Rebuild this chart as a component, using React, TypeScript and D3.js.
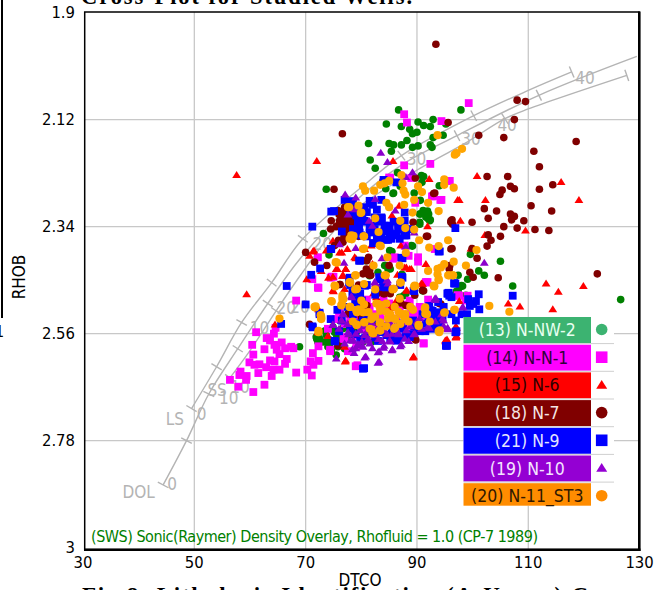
import React from "react";
import * as d3 from "d3";

type P = [number, number];

const xTicks = [30, 50, 70, 90, 110, 130];
const yTicks = [1.9, 2.12, 2.34, 2.56, 2.78, 3];
const legendLabels = ["(13) N-NW-2", "(14) N-N-1", "(15) N-6", "(18) N-7", "(21) N-9", "(19) N-10", "(20) N-11_ST3"];
const legendFills = ["#3cb371", "#ff00ff", "#ff0000", "#800000", "#0000ff", "#9400d3", "#ff8c00"];
const legendInk = ["#e8fff0", "#30003a", "#300000", "#f4e4e4", "#e4e4ff", "#f4e4ff", "#301800"];
const legendShapes = ["c", "s", "t", "c", "s", "t", "c"];

const curveLS: P[] = [[49.5,2.714],[54,2.628],[58.5,2.537],[63.9,2.455],[69.5,2.365],[81.5,2.245],[87.2,2.194],[100.2,2.112],[110,2.06],[117.8,2.022]];
const curveDOL: P[] = [[44.4,2.871],[48.6,2.78],[52.6,2.684],[57.8,2.591],[63.2,2.498],[69,2.406],[78,2.297],[87,2.215],[97.2,2.153],[111.9,2.07],[129.5,1.99]];
const curveSS: P[] = [[56.4,2.651],[60,2.595],[64.7,2.513],[69,2.441],[74.4,2.358],[79.8,2.297],[92.1,2.21],[98.6,2.169],[105.8,2.118],[110,2.098],[127.7,2.029]];
const ticksLS: P[] = [[49.5,2.714],[54,2.628],[58.5,2.537],[63.9,2.455],[69.5,2.365],[87.2,2.194],[100.2,2.112],[117.8,2.022]];
const ticksDOL: P[] = [[44.4,2.871],[48.6,2.78],[52.6,2.684],[57.8,2.591],[63.2,2.498],[97.2,2.153],[111.9,2.07]];
const ticksSS: P[] = [[56.4,2.651],[64.7,2.513],[105.8,2.118],[127.7,2.029]];
const overlayLabels: [string, number, number][] = [
  ["LS",46.5,2.736],["0",51.3,2.725],["SS",54.1,2.676],["10",56.2,2.692],["10",61.7,2.549],["10",58.2,2.669],
  ["20",66.5,2.507],["20",69,2.506],["20",73,2.376],["30",89.9,2.2],["30",99.7,2.16],["40",120.2,2.035],["40",106.2,2.132],
  ["DOL",40,2.885],["0",46,2.87],
];

const nw2: P[] = [[86.7,2.1],[97.9,2.1],[84.5,2.129],[87.2,2.134],[90.2,2.125],[91.2,2.132],[92.4,2.134],[92.9,2.12],[95.2,2.129],[88.7,2.14],[89.2,2.149],[90,2.146],[92.9,2.157],[94.7,2.152],[81.3,2.169],[85,2.169],[85.8,2.172],[87.2,2.172],[88.2,2.163],[89.2,2.177],[90.2,2.174],[92.4,2.172],[92.7,2.177],[85.4,2.185],[81.6,2.203],[82.5,2.22],[86.5,2.229],[91.2,2.237],[90.9,2.249],[85.8,2.271],[84.4,2.262],[87,2.257],[89.5,2.271],[90.6,2.286],[91.9,2.308],[90.6,2.314],[91.6,2.32],[92.4,2.326],[90.5,2.331],[92.1,2.314],[89.2,2.38],[85.5,2.391],[99.6,2.397],[105,2.411],[101.1,2.431],[102.1,2.44],[97.4,2.44],[99.1,2.448],[98.2,2.462],[107.2,2.462],[97.4,2.472],[80.8,2.41],[84.4,2.42],[83,2.434],[81.5,2.441],[85.2,2.427],[87.3,2.438],[91,2.472],[87.6,2.482],[73.7,2.263],[73.2,2.354],[74.2,2.398],[84.2,2.42],[84.8,2.427],[85.1,2.389],[89,2.379],[90.5,2.314],[92,2.324],[91.1,2.307],[92.3,2.328],[90.5,2.335],[90.8,2.235],[85.7,2.272],[94,2.256],[75.2,2.557],[76.7,2.55],[76.1,2.563],[73.7,2.563],[72.5,2.57],[73.1,2.577],[74.3,2.581],[75.5,2.57],[76.4,2.577],[74.6,2.594],[75.5,2.604],[77,2.591],[77.9,2.567],[79.1,2.557],[77.3,2.539],[76.1,2.533],[80.3,2.577],[81.8,2.577],[74,2.587],[74.9,2.546],[68.9,2.587],[71.9,2.567],[72.2,2.577],[75.8,2.587],[76.7,2.57],[86.9,2.485],[88,2.478],[97.9,2.463],[98.8,2.481],[126.6,2.49],[73.5,2.554],[75.3,2.557],[76.8,2.547],[72,2.571],[74.1,2.571],[98,2.461],[97.1,2.473],[75.9,2.571],[77.4,2.54]];

const n1: P[] = [[87.7,2.109],[88.2,2.126],[99.3,2.086],[94.4,2.123],[87.7,2.214],[92.4,2.211],[85.2,2.24],[89,2.24],[95.9,2.246],[92.9,2.277],[94.4,2.285],[89.7,2.291],[86,2.403],[88.5,2.4],[90.2,2.403],[90.2,2.412],[91.9,2.454],[93.2,2.386],[97.6,2.482],[99.1,2.482],[75,2.443],[72.2,2.403],[71.2,2.448],[72.2,2.465],[74.5,2.445],[85,2.239],[95.7,2.246],[94.2,2.285],[92.7,2.278],[85.7,2.406],[87.8,2.379],[68.3,2.492],[61.1,2.557],[64.6,2.548],[64.3,2.56],[63,2.569],[63.6,2.574],[60.4,2.583],[62.6,2.592],[64.4,2.583],[65.7,2.578],[64.8,2.593],[66.3,2.59],[67.4,2.587],[67.8,2.59],[65.3,2.602],[60.6,2.603],[63.6,2.615],[64.4,2.617],[66.6,2.612],[66.3,2.622],[59.9,2.619],[60.8,2.624],[61.7,2.623],[62.9,2.629],[61.5,2.641],[64.2,2.634],[65.3,2.634],[63.9,2.647],[58.3,2.638],[58.1,2.645],[59.4,2.647],[59.3,2.655],[56.4,2.655],[57.9,2.669],[62.6,2.665],[60.6,2.68],[68.3,2.64],[70.3,2.634],[71.1,2.646],[70.9,2.617],[72.3,2.616],[71.3,2.6],[72.3,2.586],[71.4,2.624],[74.4,2.593],[74.4,2.596],[79,2.627],[77.6,2.596],[91.2,2.58],[79.3,2.625],[85,2.498],[83.9,2.505],[86.9,2.512],[88.7,2.492],[81.5,2.505],[79.7,2.512],[86.3,2.529],[83.3,2.526],[88.7,2.546],[79.1,2.587],[91.6,2.454],[97.3,2.481],[98.8,2.492],[77,2.567],[85.2,2.505],[86.7,2.51],[88.8,2.52],[90,2.52],[91.2,2.523],[84.3,2.513],[82.5,2.52],[81,2.554],[76.8,2.571],[78.9,2.564],[97.4,2.482],[91.8,2.455],[74.7,2.443],[72.3,2.466],[91.2,2.58],[75.5,2.53],[77,2.54],[78,2.525],[80,2.55],[82,2.54],[83.5,2.53],[85,2.54],[87,2.545],[89.5,2.535],[90.5,2.505],[92,2.49],[84,2.49],[81,2.49],[79,2.53],[87.5,2.5],[89,2.51],[74,2.55],[76,2.515]];

const n6: P[] = [[57.6,2.234],[72,2.205],[59.4,2.479],[85.7,2.205],[92.2,2.242],[100.8,2.236],[115.9,2.248],[97.6,2.285],[102.3,2.285],[119.1,2.285],[91.9,2.339],[97.8,2.328],[86.8,2.297],[85.5,2.317],[102.2,2.357],[109.5,2.348],[99.7,2.385],[113.2,2.457],[115.4,2.474],[119.9,2.462],[91,2.458],[91.6,2.417],[88.7,2.427],[87.8,2.424],[79,2.405],[76.5,2.393],[77.5,2.386],[82,2.417],[76.8,2.441],[75.7,2.427],[77.2,2.427],[87.1,2.379],[106.4,2.498],[108.5,2.504],[114.4,2.51],[89.4,2.607],[77.2,2.615],[95.4,2.572],[97.1,2.565],[97.1,2.548],[97.6,2.493],[71.5,2.389],[70.7,2.4],[74.9,2.369],[73.7,2.389],[76.1,2.393],[78.8,2.403],[80.6,2.386],[75.5,2.427],[77.2,2.427],[76.6,2.441],[74.9,2.443],[81.8,2.379],[88.1,2.424],[89,2.427],[97.3,2.285],[70.2,2.448],[72.8,2.431],[74.1,2.445],[71.3,2.391],[74,2.386],[74.9,2.471],[72.2,2.557],[77,2.587],[77.1,2.617],[89.3,2.609],[82.7,2.485],[86.3,2.492],[88.1,2.471],[90.8,2.457],[95.1,2.574],[97,2.567],[97,2.545],[77,2.468],[78.8,2.478],[83.9,2.454],[86.9,2.456],[64.5,2.541],[74,2.565],[72.3,2.51],[75,2.473],[76.7,2.441],[82.2,2.477],[85.2,2.507],[88.2,2.472],[95.2,2.576],[97,2.568],[86.5,2.439],[78.6,2.544],[82.5,2.561]];

const n7: P[] = [[93.4,1.965],[108,2.08],[109.5,2.083],[107.5,2.12],[95.6,2.126],[76.6,2.149],[101.1,2.152],[105.6,2.157],[118.6,2.165],[111,2.185],[112,2.217],[102.6,2.237],[106.3,2.237],[106.8,2.257],[107.5,2.262],[112,2.263],[114.4,2.254],[105.3,2.265],[104.9,2.274],[93.2,2.271],[110.5,2.297],[102.1,2.303],[104.3,2.308],[106.8,2.314],[107.5,2.319],[114.2,2.308],[102.8,2.323],[107,2.326],[109.2,2.328],[96.3,2.326],[96.1,2.331],[99.9,2.331],[105.6,2.34],[108,2.343],[111.2,2.346],[113.7,2.348],[102.8,2.357],[105,2.36],[103.3,2.368],[102.6,2.38],[96.3,2.385],[91.9,2.36],[99.9,2.385],[100.8,2.405],[122.4,2.437],[104.6,2.445],[99.5,2.434],[95.9,2.42],[95.8,2.427],[75.1,2.263],[74.6,2.328],[76.7,2.31],[77.9,2.314],[77.3,2.328],[77,2.341],[77.3,2.352],[78.5,2.328],[79.1,2.338],[77.9,2.304],[70,2.393],[71.6,2.413],[73.8,2.42],[76.7,2.372],[75.2,2.379],[80.9,2.427],[81.2,2.434],[81.5,2.43],[80.3,2.437],[81.3,2.403],[89.7,2.24],[93,2.272],[91.7,2.36],[96.1,2.386],[96.1,2.328],[96.4,2.335],[89.3,2.331],[83.9,2.246],[77.6,2.295],[78.8,2.3],[76.4,2.325],[76,2.335],[78,2.345],[79.5,2.36],[76.1,2.459],[70.7,2.541],[77.6,2.519],[80.9,2.502],[80,2.526],[86.9,2.495],[89.6,2.481],[91,2.471],[84.2,2.478],[83.3,2.471],[85.1,2.476],[94,2.498],[89.7,2.572],[77.9,2.543],[88,2.502],[82.7,2.536],[75.8,2.585],[85,2.42],[81,2.41],[81.7,2.44],[79.5,2.46],[82.9,2.47],[76.2,2.459],[81,2.502],[82.8,2.478],[85.2,2.478],[84,2.478],[87.1,2.497],[88.5,2.503],[91.2,2.472],[94.3,2.499],[77.7,2.518],[81.3,2.439],[89.8,2.573],[100.1,2.444],[76.9,2.328],[77.9,2.338],[76.1,2.328],[78.5,2.314],[77.3,2.3],[76.4,2.321],[79.1,2.328],[78.2,2.321],[75.8,2.307],[77.2,2.335],[77.8,2.348],[76.9,2.36],[75.9,2.368],[78.8,2.31],[79.8,2.32],[77.5,2.32],[78,2.33],[76.8,2.345],[78.3,2.355],[75.5,2.34],[77,2.3],[76,2.315],[78.3,2.29],[74.5,2.345],[79,2.345]];

const n9: P[] = [[96.9,2.343],[94.1,2.391],[96.9,2.457],[101.1,2.479],[95.7,2.476],[107.2,2.482],[87.4,2.405],[79.8,2.41],[83.5,2.445],[84.4,2.465],[81,2.46],[77.8,2.455],[78.4,2.476],[87.4,2.445],[89.5,2.472],[75.1,2.308],[82.1,2.295],[78.5,2.288],[79.6,2.331],[83.7,2.323],[82.3,2.374],[74.6,2.309],[74.6,2.386],[72.6,2.426],[71,2.439],[79.6,2.41],[78.3,2.288],[79.4,2.328],[79.1,2.317],[81.8,2.293],[83.6,2.321],[82.4,2.321],[81.5,2.352],[81.8,2.338],[84.8,2.338],[85.1,2.352],[84.5,2.367],[85.4,2.365],[86.4,2.355],[86.6,2.341],[87.8,2.358],[88.1,2.358],[87.8,2.311],[82.1,2.374],[79.7,2.352],[79.6,2.338],[86.3,2.249],[84,2.244],[87.2,2.404],[93.9,2.391],[83.2,2.444],[77.9,2.445],[83.6,2.285],[87.8,2.328],[87.5,2.338],[86.9,2.345],[80.5,2.33],[80.2,2.318],[81,2.36],[71.2,2.34],[66.6,2.462],[74.5,2.386],[70,2.5],[72.5,2.517],[65.6,2.54],[71.2,2.545],[75.2,2.575],[80.3,2.632],[75.7,2.511],[80.6,2.461],[79.7,2.478],[83.9,2.464],[79.4,2.492],[88,2.563],[86.3,2.574],[84.5,2.563],[89.3,2.533],[92.5,2.512],[94,2.533],[92.8,2.529],[93.5,2.546],[91.6,2.539],[95.5,2.478],[96.7,2.456],[94.6,2.526],[96.9,2.557],[95.2,2.585],[97,2.533],[86.9,2.539],[88.7,2.567],[92.8,2.55],[79.7,2.539],[81.5,2.539],[83.3,2.557],[80.3,2.533],[80.5,2.631],[95.4,2.585],[97.1,2.555],[100.6,2.493],[101.2,2.51],[95.8,2.482],[92.8,2.513],[92.2,2.503],[89.2,2.534],[80.2,2.5],[90,2.55],[85.5,2.55],[82,2.56],[91,2.52],[93.5,2.52],[78,2.46],[82.5,2.48],[87,2.46],[72.5,2.52],[71.3,2.547],[76.5,2.533],[83.4,2.448],[80.7,2.461],[79.8,2.478],[78.9,2.496],[80.1,2.492],[87.3,2.443],[89.4,2.472],[96.7,2.457],[95.5,2.477],[96.2,2.485],[99.2,2.489],[99.5,2.503],[100.1,2.499],[92.7,2.516],[93.6,2.516],[93,2.533],[92.1,2.537],[93.9,2.54],[85.2,2.571],[86.4,2.574],[87.6,2.568],[88.8,2.561],[80.7,2.568],[79.8,2.571],[75.3,2.576],[97,2.557],[80.4,2.537],[82.5,2.568],[78.9,2.561],[81.5,2.287],[79.4,2.309],[80.6,2.328],[84.2,2.338],[85.1,2.341],[86,2.358],[86.9,2.365],[79.4,2.341],[80,2.358],[81.5,2.341],[82.4,2.345],[83.6,2.365],[84.8,2.367],[74.5,2.53],[77.5,2.505],[78.5,2.52],[81,2.525],[82.5,2.53],[84,2.545],[85.5,2.565],[87.5,2.55],[89.5,2.545],[90.5,2.555],[91.5,2.555],[94.8,2.505],[93.8,2.495],[96.2,2.52],[98,2.52],[99,2.52],[76,2.555],[78,2.55],[81.5,2.555],[83,2.575],[77,2.285],[80.5,2.3],[82.8,2.305],[84,2.35],[78.5,2.345],[83,2.33],[85.8,2.33],[81,2.31],[82.8,2.36],[88.5,2.345],[76.5,2.35],[78,2.31]];

const n10: P[] = [[83.5,2.188],[84.7,2.207],[88,2.238],[89.2,2.228],[77.1,2.274],[79,2.28],[82.5,2.283],[86.1,2.307],[77.6,2.315],[81.4,2.328],[82,2.338],[89.5,2.352],[76.1,2.376],[79,2.384],[88,2.381],[102.1,2.414],[76.9,2.414],[83.7,2.405],[82.6,2.457],[84.7,2.45],[78.7,2.304],[80.8,2.607],[83.2,2.618],[78.4,2.592],[83.2,2.596],[85.6,2.592],[87.2,2.583],[84.1,2.585],[78.7,2.6],[93.4,2.487],[92.2,2.548],[95.5,2.548],[74.9,2.541],[75.5,2.611],[80.6,2.609],[83,2.598],[83,2.62],[84,2.589],[85.5,2.594],[87,2.586],[77.6,2.557],[78.5,2.574],[79.4,2.581],[80.6,2.563],[81.2,2.57],[82.4,2.563],[84.2,2.553],[84.8,2.539],[86.6,2.557],[88.1,2.553],[89.6,2.56],[90.5,2.529],[91.95,2.546],[93.2,2.488],[94.6,2.529],[95.5,2.55],[98.2,2.505],[85.1,2.574],[76.7,2.519],[76.4,2.533],[78.2,2.483],[80.3,2.587],[79.7,2.584],[81.5,2.58],[80.9,2.543],[82.4,2.454],[84.8,2.457],[74.9,2.542],[78.3,2.485],[76.8,2.52],[76.5,2.533],[77.7,2.561],[78.6,2.574],[80.1,2.576],[81.3,2.574],[83.1,2.571],[84.6,2.561],[86.7,2.561],[89.4,2.561],[92.1,2.547],[87.3,2.537],[85.2,2.537],[81.9,2.537],[94.4,2.52],[94.8,2.533],[94.8,2.544],[95.6,2.551],[93.3,2.491],[98.3,2.506],[84.6,2.45],[82.5,2.457],[85.2,2.576],[79.8,2.553],[78,2.574],[76,2.55],[77.5,2.54],[79,2.56],[80,2.545],[81,2.555],[82.8,2.55],[83.8,2.575],[85.5,2.56],[86,2.545],[87.8,2.57],[88.8,2.545],[90.8,2.55],[93.3,2.535],[90,2.535],[77,2.58],[79,2.59],[82,2.59],[88.5,2.575]];

const n11: P[] = [[93.7,2.152],[98.1,2.18],[97.1,2.189],[96.8,2.192],[87.2,2.234],[94.9,2.243],[94.9,2.254],[96.6,2.26],[80.3,2.257],[80.7,2.266],[82.3,2.266],[83.4,2.254],[84.2,2.251],[85,2.246],[87.4,2.251],[87.6,2.266],[87.9,2.274],[90.2,2.257],[90.9,2.269],[89.5,2.285],[87.7,2.295],[84.5,2.291],[85,2.3],[92,2.291],[93.9,2.308],[89.2,2.311],[82.5,2.323],[80,2.311],[77.8,2.3],[79.5,2.297],[87,2.328],[87.9,2.343],[89.5,2.346],[83.1,2.351],[80.5,2.36],[78.6,2.359],[78.3,2.366],[90.4,2.368],[95.6,2.368],[92.2,2.383],[93.9,2.38],[100.7,2.388],[83.5,2.38],[80.5,2.385],[88,2.394],[96.6,2.412],[84.7,2.403],[98.8,2.42],[86.9,2.42],[94.9,2.417],[94.3,2.424],[93.7,2.427],[92,2.431],[93.7,2.438],[93.9,2.45],[95.8,2.44],[96.4,2.44],[82.2,2.42],[79,2.44],[84.4,2.44],[75.6,2.414],[77.9,2.455],[78.9,2.469],[82.5,2.469],[85.6,2.469],[87,2.455],[89.7,2.462],[93.1,2.462],[75.3,2.462],[76.6,2.482],[75.4,2.413],[78.2,2.358],[77.9,2.365],[80.3,2.386],[83.3,2.379],[80.4,2.36],[77.6,2.3],[79.9,2.312],[65.3,2.529],[71.8,2.504],[72.8,2.525],[72.8,2.529],[72.3,2.554],[71.6,2.505],[72.7,2.522],[74.6,2.493],[76.6,2.488],[76.4,2.502],[77.9,2.505],[79.1,2.468],[79.1,2.512],[80.3,2.516],[81.2,2.516],[82.7,2.498],[83.3,2.505],[83.6,2.502],[85.1,2.522],[84.8,2.529],[85.9,2.529],[85.9,2.55],[87.5,2.522],[87.8,2.529],[89.3,2.511],[91.4,2.509],[91.5,2.519],[94.9,2.517],[96.7,2.511],[79.1,2.541],[80.6,2.536],[81.5,2.55],[82,2.559],[83.3,2.538],[83.3,2.553],[90.3,2.542],[93.9,2.555],[75.2,2.461],[77.9,2.454],[85.8,2.468],[89.6,2.461],[93,2.461],[80,2.492],[84.5,2.498],[86.9,2.488],[103,2.503],[106.6,2.515],[94.1,2.553],[71.7,2.506],[72.8,2.53],[74.7,2.494],[76.5,2.499],[76.8,2.489],[78,2.505],[79.5,2.51],[79.2,2.516],[80.4,2.516],[81.3,2.516],[83.1,2.499],[83.7,2.502],[83.4,2.513],[85.2,2.52],[84.9,2.527],[86.1,2.53],[87.3,2.52],[87.9,2.52],[87.9,2.53],[86.1,2.547],[83.4,2.537],[83.4,2.554],[90.3,2.544],[91.5,2.506],[91.8,2.52],[95,2.516],[96.8,2.511],[94,2.557],[79.2,2.542],[80.5,2.537],[81.8,2.551],[82.2,2.559],[72.3,2.557],[75.3,2.463],[78,2.455],[78.9,2.44],[79.2,2.468],[80.5,2.458],[84.2,2.44],[85.8,2.468],[87.1,2.455],[89.5,2.463],[93.1,2.463],[93.9,2.448],[95.6,2.44],[96.5,2.44],[78.5,2.535],[81.8,2.53],[84.5,2.515],[86.7,2.515],[88.5,2.535],[84.5,2.545],[87,2.54],[82.5,2.525],[88.8,2.505],[92.3,2.535],[80.5,2.5],[86,2.505]];

const series: { pts: P[]; color: string; shape: string; r: number }[] = [
  { pts: nw2, color: "#008000", shape: "c", r: 3.8 },
  { pts: n1, color: "#ff00ff", shape: "s", r: 3.9 },
  { pts: n6, color: "#ff0000", shape: "t", r: 4 },
  { pts: n7, color: "#800000", shape: "c", r: 3.8 },
  { pts: n9, color: "#0000ff", shape: "s", r: 3.9 },
  { pts: n10, color: "#8b00cc", shape: "t", r: 4 },
  { pts: n11, color: "#ffa500", shape: "c", r: 4.1 },
];

const W = 664;
const H = 590;
const x = d3.scaleLinear().domain([30, 130]).range([83, 639.6]);
const y = d3.scaleLinear().domain([1.9, 3]).range([12.6, 547.7]);
const uiFont = "'DejaVu Sans Condensed', 'DejaVu Sans', sans-serif";
const overlayGray = "#b4b4b4";

const lineGen = d3.line<P>().x((d) => x(d[0])).y((d) => y(d[1])).curve(d3.curveCatmullRom.alpha(0.5));

function Marker({ shape, color, r, cx, cy }: { shape: string; color: string; r: number; cx: number; cy: number }) {
  if (shape === "c") return <circle cx={cx} cy={cy} r={r} fill={color} />;
  if (shape === "s") return <rect x={cx - r} y={cy - r} width={2 * r} height={2 * r} fill={color} />;
  return <path d={`M${cx},${cy - r}L${cx + r * 1.1},${cy + r * 0.75}L${cx - r * 1.1},${cy + r * 0.75}Z`} fill={color} />;
}

function tickPath(curve: P[], t: P, half = 6) {
  const idx = Math.max(0, d3.bisector((d: P) => d[0]).left(curve, t[0]));
  const a = curve[Math.max(0, Math.min(curve.length - 2, idx - 1))];
  const b = curve[Math.max(1, Math.min(curve.length - 1, idx))];
  const dx = x(b[0]) - x(a[0]);
  const dy = y(b[1]) - y(a[1]);
  const len = Math.hypot(dx, dy) || 1;
  const nx = -dy / len;
  const ny = dx / len;
  const px = x(t[0]);
  const py = y(t[1]);
  return `M${px - nx * half},${py - ny * half}L${px + nx * half},${py + ny * half}`;
}

export default function App() {
  const legX = 463.5;
  const legW = 127.5;
  const legTop = 317;
  const legStep = 27.7;
  const legBoxH = 26;
  const legBottom = 505.7;
  return (
    <svg width={W} height={H} viewBox={`0 0 ${W} ${H}`} style={{ position: "absolute", left: 0, top: 0, background: "#fff", display: "block" }} fontFamily={uiFont}>
      <text x={81} y={3.5} fontFamily="'Liberation Serif', serif" fontWeight="bold" fontSize={22.5} fill="#000" textLength={331}>Cross-Plot for Studied Wells.</text>
      <line x1={2} x2={2} y1={0} y2={318} stroke="#000" strokeWidth={2} />
      <text x={-5} y={337} fontSize={16} fill="#000">1</text>

      {xTicks.slice(1, -1).map((t) => <line key={t} x1={x(t)} x2={x(t)} y1={12} y2={549} stroke="#c8c8c8" strokeWidth={1.3} />)}
      {yTicks.slice(1, -1).map((t) => <line key={t} x1={85} x2={638} y1={y(t)} y2={y(t)} stroke="#c8c8c8" strokeWidth={1.3} />)}

      <g fill="none" stroke={overlayGray} strokeWidth={1.4}>
        {[curveLS, curveDOL, curveSS].map((c, i) => <path key={i} d={lineGen(c) || ""} />)}
        {ticksLS.map((t, i) => <path key={"l" + i} d={tickPath(curveLS, t)} />)}
        {ticksDOL.map((t, i) => <path key={"d" + i} d={tickPath(curveDOL, t)} />)}
        {ticksSS.map((t, i) => <path key={"s" + i} d={tickPath(curveSS, t)} />)}
      </g>
      {overlayLabels.map(([s, a, b], i) => (
        <text key={i} x={x(a)} y={y(b)} fontSize={17} fill={overlayGray} textAnchor="middle" dominantBaseline="central">{s}</text>
      ))}

      {series.map((s, i) => (
        <g key={i}>
          {s.pts.map((p, j) => <Marker key={j} shape={s.shape} color={s.color} r={s.r} cx={x(p[0])} cy={y(p[1])} />)}
        </g>
      ))}

      <rect x={legX} y={legTop} width={614 - legX} height={legBottom - legTop} fill="#fff" />
      {legendLabels.map((lab, i) => {
        const top = legTop + i * legStep;
        const h = Math.min(legBoxH, legBottom - top);
        return (
          <g key={lab}>
            <rect x={legX} y={top} width={legW} height={h} fill={legendFills[i]} />
            {i < 6 && <line x1={legX} x2={614} y1={top + legBoxH + 0.6} y2={top + legBoxH + 0.6} stroke="#cfcfcf" strokeWidth={1} />}
            <text x={legX + legW / 2} y={top + 13} fontSize={17.5} fill={legendInk[i]} textAnchor="middle" dominantBaseline="central">{lab}</text>
            <Marker shape={legendShapes[i]} color={legendFills[i]} r={legendShapes[i] === "t" ? 5 : 5.8} cx={601.7} cy={top + 12.5} />
          </g>
        );
      })}

      <text x={91} y={536} fontSize={16} fill="#008000" dominantBaseline="central" textLength={447}>(SWS) Sonic(Raymer) Density Overlay, Rhofluid = 1.0 (CP-7 1989)</text>

      <rect x={84.7} y={12} width={554.4} height={537.6} fill="none" stroke="#000" strokeWidth={1.5} />
      <line x1={639.3} x2={639.3} y1={11.5} y2={551} stroke="#000" strokeWidth={2.6} />
      <line x1={84} x2={640.5} y1={549.8} y2={549.8} stroke="#000" strokeWidth={2.4} />

      {yTicks.map((t) => (
        <text key={t} x={75} y={y(t)} fontSize={16.5} fill="#000" textAnchor="end" dominantBaseline="central">{d3.format("~g")(t)}</text>
      ))}
      {xTicks.map((t) => (
        <text key={t} x={x(t)} y={562} fontSize={16.5} fill="#000" textAnchor="middle" dominantBaseline="central">{t}</text>
      ))}
      <text x={360} y={580} fontSize={17} fill="#000" textAnchor="middle" dominantBaseline="central">DTCO</text>
      <text transform="translate(19,277) rotate(-90)" fontSize={17} fill="#000" textAnchor="middle" dominantBaseline="central">RHOB</text>
      <text x={82} y={602.5} fontFamily="'Liberation Serif', serif" fontWeight="bold" fontSize={23} fill="#000" textLength={506}>Fig.8: Lithologic Identification (A-Upper) C</text>
    </svg>
  );
}
